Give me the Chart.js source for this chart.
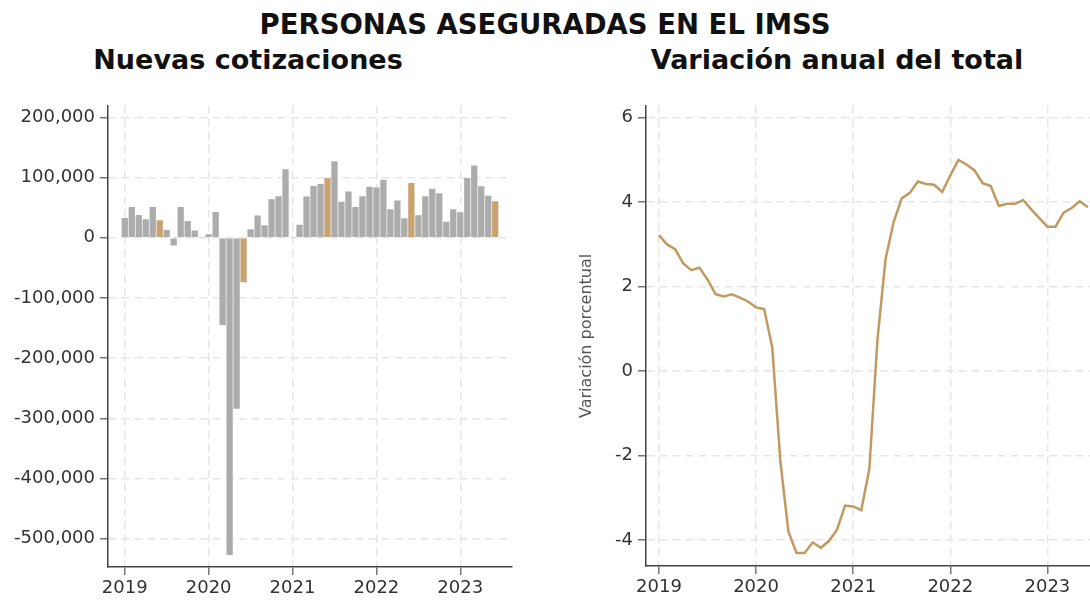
<!DOCTYPE html>
<html lang="es">
<head>
  <meta charset="UTF-8">
  <title>Personas aseguradas en el IMSS</title>
  <script src="https://cdn.jsdelivr.net/npm/chart.js"></script>
  <style>
    body { margin: 0; width: 1090px; height: 603px; overflow: hidden; background: #fff; font-family: 'DejaVu Sans', sans-serif; position: relative; }
    .title { position: absolute; top: 8px; left: 0; width: 1090px; text-align: center; font-size: 27.5px; font-weight: bold; color: #111; }
    .sub { position: absolute; top: 44px; font-size: 27px; font-weight: bold; color: #111; text-align: center; width: 500px; }
    .box { position: absolute; top: 90px; height: 513px; }
  </style>
</head>
<body>
  <div class="title">PERSONAS ASEGURADAS EN EL IMSS</div>
  <div class="sub" style="left: -2px;">Nuevas cotizaciones</div>
  <div class="sub" style="left: 587px;">Variación anual del total</div>

  <div class="box" style="left: 0; width: 540px;"><canvas id="left-chart" width="540" height="513"></canvas></div>
  <div class="box" style="left: 560px; width: 560px;"><canvas id="right-chart" width="560" height="513"></canvas></div>

  <script>
    // monthly series, Jan 2019 - Jun 2023
    const years = ['2019', '2020', '2021', '2022', '2023'];
    const highlightMonth = 6; // June bars in tan

    const newJobs = [
      33000, 51000, 38000, 31000, 51000, 29000, 13000, -13000, 51000, 28000, 12000, 1000,
      6000, 43000, -145000, -527000, -284000, -74000, 14000, 37000, 21000, 64000, 69000, 114000,
      1000, 21500, 68500, 86000, 89500, 99500, 127000, 60000, 77000, 51000, 69000, 85000,
      83500, 96500, 47500, 62000, 32500, 91000, 37500, 69000, 81500, 74000, 26500, 47500,
      42500, 99500, 120000, 85500, 70000, 60500
    ];

    const annualChange = [
      3.22, 3.00, 2.89, 2.55, 2.39, 2.45, 2.17, 1.82, 1.77, 1.82, 1.74, 1.65,
      1.51, 1.47, 0.56, -2.12, -3.80, -4.30, -4.30, -4.05, -4.18, -4.02, -3.75, -3.18,
      -3.20, -3.29, -2.31, 0.75, 2.65, 3.53, 4.09, 4.22, 4.49, 4.43, 4.41, 4.24,
      4.63, 5.00, 4.89, 4.75, 4.45, 4.38, 3.91, 3.96, 3.96, 4.05, 3.83, 3.62,
      3.42, 3.42, 3.75, 3.86, 4.02, 3.88
    ];

    const leftTicks = [200000, 100000, 0, -100000, -200000, -300000, -400000, -500000];
    const rightTicks = [6, 4, 2, 0, -2, -4];
    const yearTicks = years.map((y, i) => i * 12);

    const grey = '#acacac';
    const tan = '#c8a472';
    const lineColor = '#c29a60';

    Chart.defaults.font.family = "'DejaVu Sans', sans-serif";
    Chart.defaults.font.size = 18;
    Chart.defaults.color = '#333';

    function yearLabel(v) {
      return years[v / 12];
    }

    function axisStyle() {
      return {
        offset: false,
        grid: { offset: false, color: '#e6e6e6', lineWidth: 1.5, tickColor: '#777', tickLength: 8, tickWidth: 1.5, tickBorderDash: [] },
        border: { display: true, color: '#444', width: 1.5, dash: [8, 5] }
      };
    }

    // bars
    new Chart(document.getElementById('left-chart'), {
      type: 'bar',
      data: {
        datasets: [{
          data: newJobs.map((v, i) => ({ x: i, y: v })),
          backgroundColor: newJobs.map((v, i) => (i % 12 === highlightMonth - 1 ? tan : grey)),
          barPercentage: 0.9,
          categoryPercentage: 1
        }]
      },
      options: {
        responsive: false,
        animation: false,
        layout: { padding: { top: 13, right: 28, bottom: 0, left: 0 } },
        plugins: { legend: { display: false }, tooltip: { enabled: false } },
        scales: {
          x: Object.assign(axisStyle(), {
            type: 'linear',
            min: -2.4,
            max: 55.4,
            afterBuildTicks: s => { s.ticks = yearTicks.map(v => ({ value: v })); },
            afterFit: s => { s.height = 36; },
            ticks: { callback: yearLabel, padding: 3, maxRotation: 0, autoSkip: false }
          }),
          y: Object.assign(axisStyle(), {
            min: -547000,
            max: 219300,
            afterBuildTicks: s => { s.ticks = leftTicks.map(v => ({ value: v })); },
            afterFit: s => { s.width = 108; },
            ticks: { callback: v => v.toLocaleString('en-US'), padding: 5, autoSkip: false }
          })
        }
      }
    });

    // line
    new Chart(document.getElementById('right-chart'), {
      type: 'line',
      data: {
        datasets: [{
          data: annualChange.map((v, i) => ({ x: i, y: v })),
          borderColor: lineColor,
          borderWidth: 2.5,
          pointRadius: 0,
          tension: 0,
          fill: false
        }]
      },
      options: {
        responsive: false,
        animation: false,
        layout: { padding: { top: 13, right: 20, bottom: 0, left: 0 } },
        plugins: { legend: { display: false }, tooltip: { enabled: false } },
        scales: {
          x: Object.assign(axisStyle(), {
            type: 'linear',
            min: -1.6,
            max: 54.5,
            afterBuildTicks: s => { s.ticks = yearTicks.map(v => ({ value: v })); },
            afterFit: s => { s.height = 37; },
            ticks: { callback: yearLabel, padding: 3, maxRotation: 0, autoSkip: false }
          }),
          y: Object.assign(axisStyle(), {
            min: -4.61,
            max: 6.28,
            afterBuildTicks: s => { s.ticks = rightTicks.map(v => ({ value: v })); },
            afterFit: s => { s.width = 86; },
            title: { display: true, text: 'Variación porcentual', color: '#555', font: { size: 16 }, padding: { top: 17, bottom: 0 } },
            ticks: { padding: 5, autoSkip: false }
          })
        }
      }
    });
  </script>
</body>
</html>
